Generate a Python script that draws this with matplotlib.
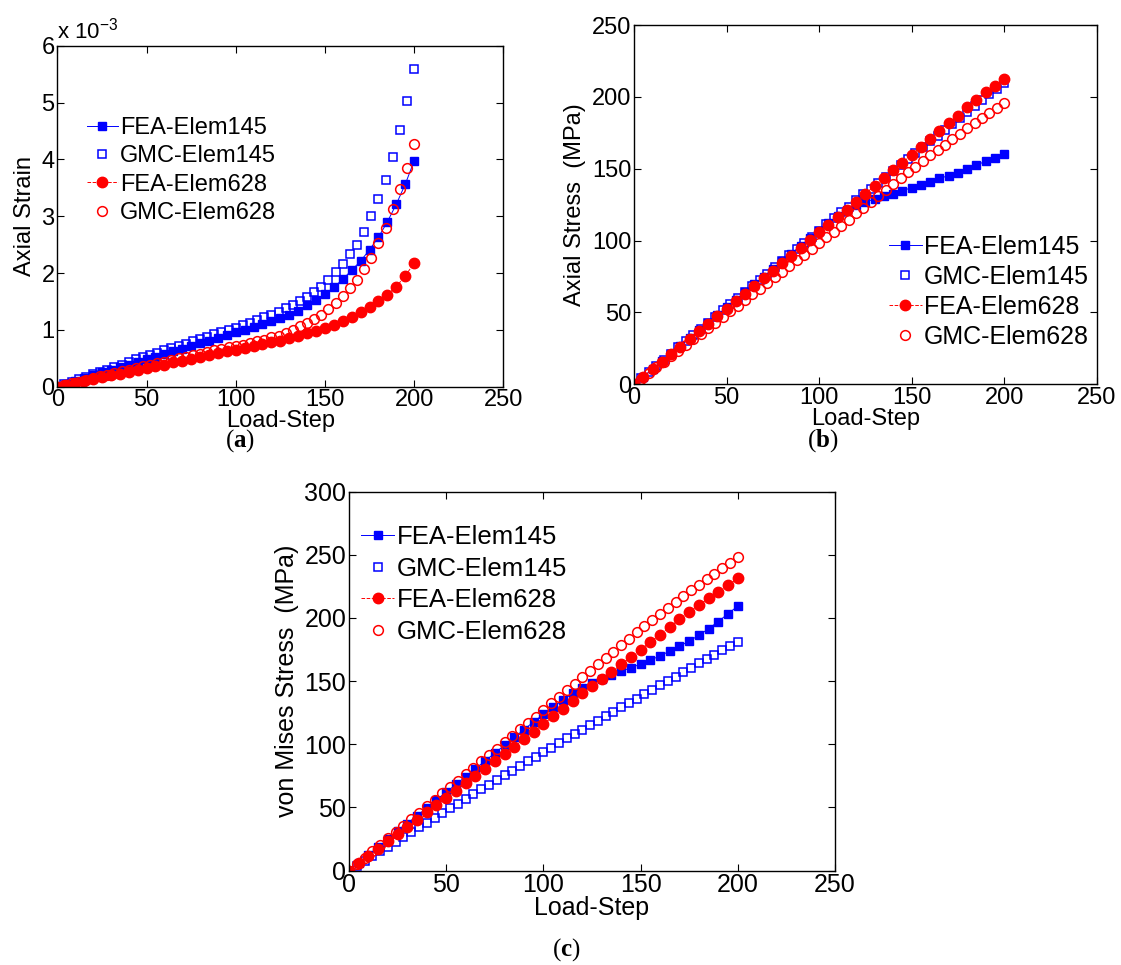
import numpy as np
import matplotlib
matplotlib.use("Agg")
import matplotlib.pyplot as plt

plt.rcParams.update({
    "font.family": ["Liberation Sans", "DejaVu Sans"],
    "mathtext.fontset": "custom",
    "mathtext.rm": "Liberation Sans",
    "mathtext.it": "Liberation Sans:italic",
    "mathtext.bf": "Liberation Serif:bold",
    "xtick.direction": "in",
    "ytick.direction": "in",
    "xtick.top": True,
    "ytick.right": True,
    "xtick.major.size": 5,
    "ytick.major.size": 5,
    "axes.linewidth": 1.0,
})

# --- data ---
# FEA results are written every 5 load steps, GMC results every 4
STEP_FEA = np.arange(0, 201, 5)
STEP_GMC = np.arange(0, 201, 4)

# (a) axial strain, in units of 1e-3
strain_fea145 = [0, 0.05, 0.10, 0.15, 0.20, 0.25, 0.30, 0.34, 0.39, 0.44,
                 0.49, 0.53, 0.58, 0.63, 0.67, 0.72, 0.77, 0.81, 0.86, 0.91,
                 0.96, 1.00, 1.05, 1.10, 1.15, 1.20, 1.27, 1.34, 1.43, 1.53,
                 1.63, 1.75, 1.89, 2.05, 2.21, 2.41, 2.63, 2.90, 3.21, 3.56,
                 3.97]
strain_gmc145 = [0, 0.04, 0.09, 0.13, 0.17, 0.22, 0.26, 0.30, 0.35, 0.39,
                 0.43, 0.48, 0.52, 0.56, 0.60, 0.64, 0.68, 0.72, 0.76, 0.80,
                 0.84, 0.88, 0.92, 0.96, 1.00, 1.04, 1.08, 1.12, 1.17, 1.22,
                 1.27, 1.32, 1.38, 1.44, 1.51, 1.58, 1.66, 1.75, 1.88, 2.02,
                 2.16, 2.33, 2.50, 2.73, 3.00, 3.30, 3.63, 4.05, 4.51, 5.03,
                 5.59]
strain_fea628 = [0, 0.03, 0.07, 0.10, 0.13, 0.17, 0.20, 0.23, 0.26, 0.30,
                 0.33, 0.36, 0.39, 0.43, 0.46, 0.49, 0.52, 0.56, 0.59, 0.62,
                 0.65, 0.68, 0.71, 0.75, 0.78, 0.81, 0.85, 0.89, 0.94, 0.98,
                 1.04, 1.09, 1.15, 1.23, 1.31, 1.40, 1.50, 1.62, 1.76, 1.95,
                 2.17]
strain_gmc628 = [0, 0.03, 0.06, 0.09, 0.12, 0.15, 0.18, 0.21, 0.24, 0.27,
                 0.30, 0.33, 0.36, 0.38, 0.41, 0.44, 0.47, 0.50, 0.53, 0.56,
                 0.58, 0.61, 0.64, 0.67, 0.70, 0.72, 0.74, 0.77, 0.80, 0.83,
                 0.87, 0.90, 0.95, 1.00, 1.06, 1.12, 1.19, 1.27, 1.36, 1.47,
                 1.59, 1.73, 1.88, 2.07, 2.27, 2.53, 2.79, 3.12, 3.47, 3.85,
                 4.27]

# (b) axial stress, MPa
axial_fea145 = [0, 5.3, 10.7, 16.0, 21.4, 26.8, 32.1, 37.5, 42.8, 48.2,
                53.5, 58.9, 64.2, 69.6, 74.9, 80.3, 85.6, 91.0, 96.3, 101.6,
                106.9, 112.2, 117.3, 121.6, 124.8, 126.9, 128.9, 130.8, 132.7, 134.7,
                136.8, 138.9, 141.0, 143.2, 145.2, 147.2, 149.8, 152.5, 155.2, 157.7,
                160.3]
axial_gmc145 = [0, 4.3, 8.6, 12.8, 17.1, 21.4, 25.7, 30.0, 34.2, 38.5,
                42.8, 47.1, 51.4, 55.6, 59.9, 64.2, 68.5, 72.8, 77.0, 81.3,
                85.6, 89.9, 94.2, 98.4, 102.7, 107.0, 111.2, 115.4, 119.6, 123.7,
                128.0, 132.1, 136.2, 140.3, 144.4, 148.5, 152.6, 156.7, 160.8, 164.9,
                169.0, 173.0, 177.1, 181.2, 185.3, 189.4, 193.5, 197.6, 201.7, 205.6,
                209.5]
axial_fea628 = [0, 5.2, 10.4, 15.7, 21.0, 26.2, 31.5, 36.8, 42.0, 47.4,
                52.6, 57.8, 63.1, 68.4, 73.7, 79.0, 84.3, 89.6, 95.0, 100.3,
                105.7, 111.1, 116.4, 121.6, 126.9, 132.5, 138.2, 143.7, 148.9, 154.3,
                159.8, 165.3, 170.7, 176.5, 181.9, 187.0, 192.6, 198.0, 203.1, 207.9,
                212.3]
axial_gmc628 = [0, 3.9, 7.8, 11.7, 15.6, 19.5, 23.4, 27.3, 31.2, 35.2,
                39.1, 43.0, 46.9, 50.8, 54.8, 58.7, 62.6, 66.5, 70.5, 74.4,
                78.4, 82.3, 86.3, 90.2, 94.2, 98.2, 102.2, 106.2, 110.2, 114.2,
                119.0, 123.0, 127.1, 131.2, 135.3, 139.5, 143.5, 147.5, 151.4, 155.3,
                159.2, 163.0, 166.8, 170.6, 174.4, 178.1, 181.7, 185.2, 188.7, 192.1,
                195.4]

# (c) von Mises stress, MPa
mises_fea145 = [0, 6.2, 12.4, 18.6, 24.8, 31.0, 37.2, 43.4, 49.6, 55.8,
                62.0, 68.2, 74.4, 80.6, 86.8, 93.0, 99.2, 105.4, 111.6, 117.8,
                123.6, 129.4, 135.0, 140.2, 144.8, 148.6, 152.0, 155.0, 157.8, 160.6,
                163.4, 166.6, 170.0, 173.8, 177.6, 181.8, 186.2, 191.6, 197.2, 203.4,
                209.4]
mises_gmc145 = [0, 3.8, 7.6, 11.4, 15.2, 19.0, 22.8, 26.6, 30.4, 34.1,
                37.9, 41.7, 45.5, 49.2, 53.0, 56.8, 60.5, 64.2, 68.0, 71.7,
                75.4, 79.1, 82.8, 86.5, 90.2, 93.8, 97.4, 101.0, 104.6, 108.1,
                111.6, 115.1, 118.6, 122.1, 125.6, 129.1, 132.6, 136.1, 139.6, 143.1,
                146.6, 150.1, 153.6, 157.1, 160.6, 164.0, 167.5, 171.0, 174.4, 177.9,
                181.3]
mises_fea628 = [0, 5.8, 11.6, 17.3, 23.0, 28.8, 34.5, 40.2, 46.0, 51.7,
                57.5, 63.2, 69.0, 74.8, 80.6, 86.4, 92.3, 98.2, 104.1, 110.0,
                116.0, 122.0, 127.8, 133.9, 140.4, 146.5, 151.8, 157.0, 163.3, 169.0,
                174.9, 180.9, 186.9, 193.0, 198.9, 205.0, 210.3, 215.5, 220.8, 226.0,
                231.3]
mises_gmc628 = [0, 5.1, 10.2, 15.2, 20.3, 25.4, 30.5, 35.6, 40.6, 45.7,
                50.8, 55.9, 61.0, 66.0, 71.1, 76.2, 81.3, 86.4, 91.4, 96.5,
                101.6, 106.7, 111.8, 116.8, 121.9, 127.0, 132.3, 137.5, 142.7, 147.9,
                153.0, 158.1, 163.2, 168.3, 173.4, 178.5, 183.5, 188.5, 193.5, 198.5,
                203.5, 208.2, 212.8, 217.4, 222.0, 226.5, 230.9, 235.2, 239.5, 243.8,
                248.0]

LABELS = ["FEA-Elem145", "GMC-Elem145", "FEA-Elem628", "GMC-Elem628"]
BLUE = "#0000ff"
RED = "#ff0000"


def draw_panel(ax, series, ylim, yticks, ylabel, fs, legend_fs, leg_anchor, spacing):
    fea145, gmc145, fea628, gmc628 = series
    ax.plot(STEP_FEA, fea145, "-s", color=BLUE, lw=0.7, ms=6,
            mfc=BLUE, mec=BLUE, label=LABELS[0])
    ax.plot(STEP_GMC, gmc145, "s", color=BLUE, ms=6, mfc="none",
            mec=BLUE, mew=1.1, label=LABELS[1])
    ax.plot(STEP_FEA, fea628, "--o", color=RED, lw=0.7, ms=7.5,
            mfc=RED, mec=RED, label=LABELS[2])
    ax.plot(STEP_GMC, gmc628, "o", color=RED, ms=7, mfc="none",
            mec=RED, mew=1.1, label=LABELS[3])

    ax.set_xlim(0, 250)
    ax.set_ylim(*ylim)
    ax.set_xticks([0, 50, 100, 150, 200, 250])
    ax.set_yticks(yticks)
    ax.tick_params(labelsize=fs, pad=2)
    ax.set_xlabel("Load-Step", fontsize=fs, labelpad=-1)
    ax.set_ylabel(ylabel, fontsize=fs, labelpad=4)
    ax.legend(loc="upper left", bbox_to_anchor=leg_anchor,
              bbox_transform=ax.figure.transFigure, frameon=False,
              fontsize=legend_fs, handlelength=1.3, handletextpad=0.1,
              labelspacing=spacing, borderpad=0, borderaxespad=0)


fig = plt.figure(figsize=(11.21, 9.65), dpi=100)
W, H = 1121, 965

ax_a = fig.add_axes([57.3 / W, 1 - 386.7 / H, 446 / W, 341 / H])
ax_b = fig.add_axes([634 / W, 1 - 384.3 / H, 462.7 / W, 359.3 / H])
ax_c = fig.add_axes([349 / W, 1 - 870.5 / H, 486 / W, 378.8 / H])

draw_panel(ax_a, [strain_fea145, strain_gmc145, strain_fea628, strain_gmc628],
           (0, 6), [0, 1, 2, 3, 4, 5, 6], "Axial Strain", 17, 17,
           (87 / W, 1 - 117 / H), 0.27)
ax_a.text(0.0, 1.005, r"x 10$^{-3}$", transform=ax_a.transAxes,
          fontsize=16, ha="left", va="bottom")

draw_panel(ax_b, [axial_fea145, axial_gmc145, axial_fea628, axial_gmc628],
           (0, 250), [0, 50, 100, 150, 200, 250], "Axial Stress  (MPa)", 17, 18,
           (889 / W, 1 - 235 / H), 0.24)

draw_panel(ax_c, [mises_fea145, mises_gmc145, mises_fea628, mises_gmc628],
           (0, 300), [0, 50, 100, 150, 200, 250, 300], "von Mises Stress  (MPa)",
           18, 18.5, (361 / W, 1 - 525 / H), 0.30)

# panel captions: "(a)" with the letter in bold
for label, x, y in [("a", 240, 441), ("b", 823, 441), ("c", 566, 950)]:
    fig.text(x / W, 1 - y / H, "(" + r"$\mathbf{" + label + "}$" + ")", fontsize=18,
             family=["Liberation Serif", "DejaVu Serif"], ha="center", va="center")

fig.savefig("out.png", dpi=100)
